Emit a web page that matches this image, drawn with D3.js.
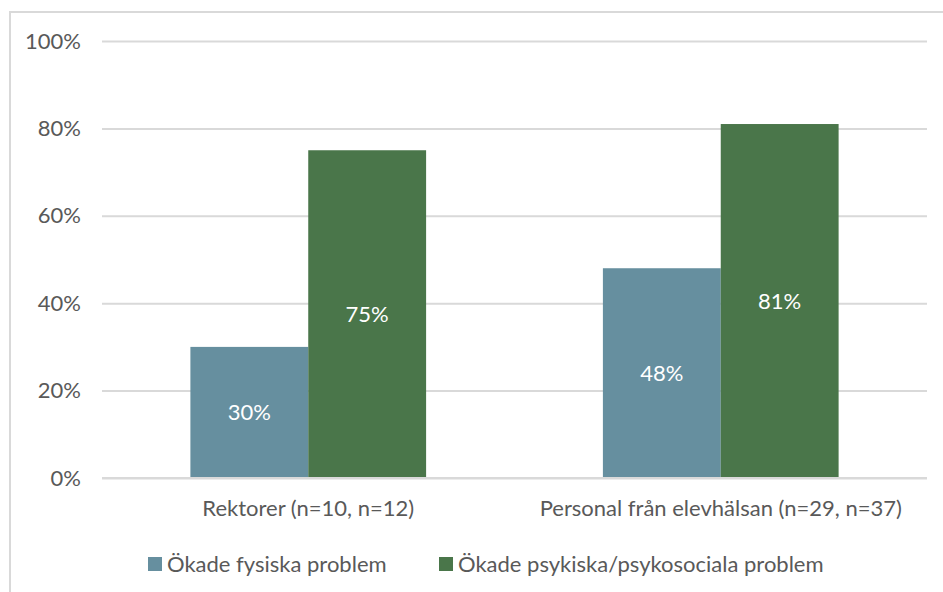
<!DOCTYPE html>
<html>
<head>
<meta charset="utf-8">
<script src="https://cdn.jsdelivr.net/npm/d3@7"></script>
<style>
  body { margin: 0; background: #fff; }
  svg { display: block; font-family: Lato, "Open Sans", sans-serif; }
</style>
</head>
<body>
<svg id="chart" width="943" height="592"></svg>
<script>
// Data
const categories = ["Rektorer (n=10, n=12)", "Personal från elevhälsan (n=29, n=37)"];
const seriesNames = ["Ökade fysiska problem", "Ökade psykiska/psykosociala problem"];
const fysiska = [0.30, 0.48];
const psykiska = [0.75, 0.81];
const yTicks = [0, 0.2, 0.4, 0.6, 0.8, 1.0];
const colors = ["#668F9F", "#4A764A"];

const svg = d3.select("#chart");
const width = 943;
const height = 592;
const margin = { top: 41, right: 16, bottom: 114, left: 102 };
const fontSize = 22;

// Chart border
svg.append("rect")
  .attr("x", 10).attr("y", 12)
  .attr("width", width).attr("height", height)
  .attr("fill", "none")
  .attr("stroke", "#d9d9d9")
  .attr("stroke-width", 2);

// Scales
const x0 = d3.scaleBand()
  .domain(categories)
  .range([margin.left, width - margin.right])
  .paddingInner(0)
  .paddingOuter(0);

const x1 = d3.scaleBand()
  .domain(seriesNames)
  .range([0, x0.bandwidth()])
  .paddingOuter(0.75)
  .paddingInner(0);

const y = d3.scaleLinear()
  .domain([0, 1])
  .range([height - margin.bottom, margin.top]);

// Gridlines + y labels
const yAxis = svg.append("g")
  .attr("transform", `translate(${margin.left},0)`)
  .call(d3.axisLeft(y)
    .tickValues(yTicks)
    .tickSize(-(width - margin.left - margin.right))
    .tickPadding(21)
    .tickFormat(d3.format(".0%")));
yAxis.select(".domain").remove();
yAxis.selectAll(".tick line")
  .attr("stroke", "#d9d9d9")
  .attr("stroke-width", 2);
yAxis.selectAll(".tick text")
  .attr("fill", "#595959")
  .attr("font-size", fontSize)
  .attr("font-family", "Lato, sans-serif");

// Bars
const rows = categories.map((c, i) => ({ cat: c, values: [fysiska[i], psykiska[i]] }));

const groups = svg.append("g")
  .selectAll("g")
  .data(rows)
  .join("g")
  .attr("transform", d => `translate(${x0(d.cat)},0)`);

const bars = groups.selectAll("g")
  .data(d => d.values.map((v, j) => ({ key: seriesNames[j], value: v, j })))
  .join("g");

bars.append("rect")
  .attr("x", d => x1(d.key))
  .attr("y", d => y(d.value))
  .attr("width", x1.bandwidth())
  .attr("height", d => y(0) - y(d.value))
  .attr("fill", d => colors[d.j]);

bars.append("text")
  .attr("x", d => x1(d.key) + x1.bandwidth() / 2)
  .attr("y", d => (y(d.value) + y(0)) / 2)
  .attr("dy", "0.35em")
  .attr("text-anchor", "middle")
  .attr("fill", "#fff")
  .attr("font-size", fontSize)
  .text(d => d3.format(".0%")(d.value));

// X axis line on 0
svg.append("line")
  .attr("x1", margin.left).attr("x2", width - margin.right)
  .attr("y1", y(0)).attr("y2", y(0))
  .attr("stroke", "#d9d9d9")
  .attr("stroke-width", 2);

// Category labels
const xAxis = svg.append("g")
  .attr("transform", `translate(0,${y(0)})`)
  .call(d3.axisBottom(x0).tickSize(0).tickPadding(22));
xAxis.select(".domain").remove();
xAxis.selectAll(".tick text")
  .attr("fill", "#595959")
  .attr("font-size", fontSize)
  .attr("font-family", "Lato, sans-serif");

// Legend
const legendX = [148, 439];
const legend = svg.append("g")
  .selectAll("g")
  .data(seriesNames)
  .join("g")
  .attr("transform", (d, i) => `translate(${legendX[i]},564)`);

legend.append("rect")
  .attr("x", 0).attr("y", -7)
  .attr("width", 14).attr("height", 14)
  .attr("fill", (d, i) => colors[i]);

legend.append("text")
  .attr("x", 19)
  .attr("dy", "0.35em")
  .attr("fill", "#595959")
  .attr("font-size", fontSize)
  .text(d => d);
</script>
</body>
</html>
